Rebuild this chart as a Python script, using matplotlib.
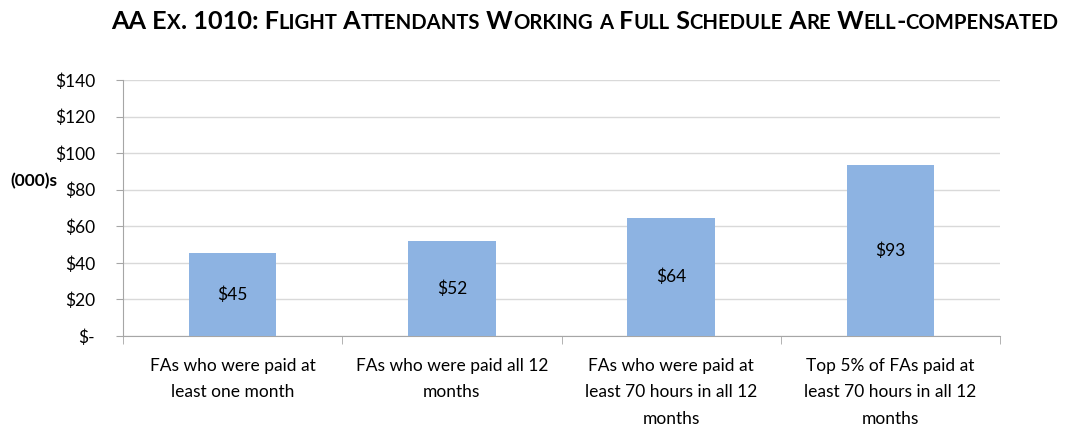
import matplotlib
matplotlib.use("Agg")
import matplotlib.pyplot as plt
import numpy as np

categories = ["FAs who were paid at\nleast one month",
              "FAs who were paid all 12\nmonths",
              "FAs who were paid at\nleast 70 hours in all 12\nmonths",
              "Top 5% of FAs paid at\nleast 70 hours in all 12\nmonths"]
values = [45.3, 51.8, 64.3, 93.4]
yticks = [0, 20, 40, 60, 80, 100, 120, 140]
ytick_labels = ["$-", "$20", "$40", "$60", "$80", "$100", "$120", "$140"]
title = "AA Ex. 1010: Flight Attendants Working a Full Schedule Are Well-compensated"

FONT = "Lato"
plt.rcParams['font.family'] = [FONT, 'DejaVu Sans']

W, H = 1066, 425
fig = plt.figure(figsize=(W / 100, H / 100), dpi=100)
ax = fig.add_axes([123 / W, (H - 336) / H, (1000 - 123) / W, (336 - 80) / H])

FS = 12.5
x = np.arange(len(categories))
bars = ax.bar(x, values, width=0.40, color="#8DB3E2", zorder=3)
for xi, v in zip(x, values):
    ax.text(xi, v / 2, f"${v:.0f}", ha="center", va="center", fontsize=FS, color="black", zorder=4)

ax.set_xlim(-0.5, len(categories) - 0.5)
ax.set_ylim(0, 140)
ax.set_yticks(yticks)
ax.set_yticklabels(ytick_labels, fontsize=FS)
ax.yaxis.grid(True, color="#D9D9D9", linewidth=1, zorder=0)
ax.set_axisbelow(True)

ax.set_xticks(x)
ax.set_xticklabels(categories, fontsize=FS, linespacing=1.78, va="top")
ax.set_xticks(np.arange(-0.5, len(categories), 1.0), minor=True)
ax.tick_params(axis="x", which="major", length=0, pad=16)
ax.tick_params(axis="x", which="minor", length=6, color="#A6A6A6", direction="out")
ax.tick_params(axis="y", length=5, color="#A6A6A6", direction="out", pad=15)

for s in ["top", "right"]:
    ax.spines[s].set_visible(False)
for s in ["left", "bottom"]:
    ax.spines[s].set_color("#A6A6A6")

fig.text(10 / W, 1 - 181 / H, "(000)s", fontsize=FS, fontweight="bold", ha="left", va="center")

# Small-caps title
runs = []
for ch in title:
    small = ch.islower()
    c = ch.upper()
    if runs and runs[-1][1] == small:
        runs[-1][0] += c
    else:
        runs.append([c, small])

big, smallsz = 18.2, 14.6
fig.canvas.draw()
renderer = fig.canvas.get_renderer()
ybase = 1 - 29 / H
texts = []
xpos = 0.0
for s, small in runs:
    t = fig.text(xpos, ybase, s, fontsize=smallsz if small else big, fontweight="bold",
                 ha="left", va="baseline")
    bb = t.get_window_extent(renderer)
    texts.append(t)
    xpos += bb.width / W
total = xpos
start = 585 / W - total / 2
cur = start
for t in texts:
    bb = t.get_window_extent(renderer)
    t.set_x(cur)
    cur += bb.width / W

fig.savefig("out.png", dpi=100)
